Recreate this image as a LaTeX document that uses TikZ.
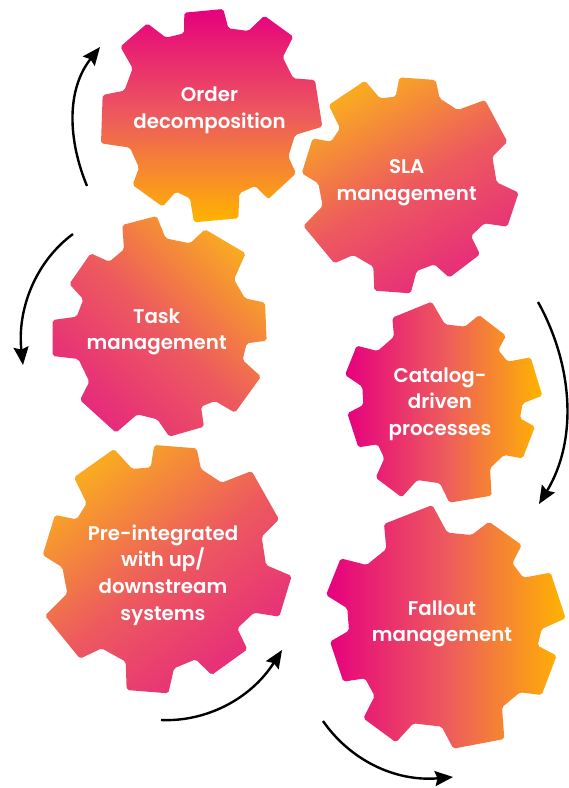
\documentclass[tikz,border=0pt]{standalone}
\usepackage{fontspec}
\setmainfont{Poppins}[BoldFont={Poppins SemiBold}]
\usetikzlibrary{arrows.meta}
\definecolor{gpink}{HTML}{E6007E}
\definecolor{gmid}{HTML}{ED5A5E}
\definecolor{gyel}{HTML}{FFB400}
\definecolor{dpink}{HTML}{E62A7C}
\definecolor{dyel}{HTML}{F9A922}
\tikzset{
  gearbase/.style={rounded corners=2pt, draw=none},
  gearv/.style={gearbase, top color=gpink, bottom color=gyel, middle color=gmid},
  gearh/.style={gearbase, left color=gpink, right color=gyel, middle color=gmid},
  geard/.style={gearbase, top color=dyel, bottom color=dpink, middle color=gmid, shading angle=#1},
  gearlabel/.style={text=white, align=center, font=\fontsize{19.8}{26.7}\selectfont\bfseries},
  turn/.style={line width=2.4pt, draw=black, -{Stealth[length=18pt,width=15pt,inset=2.5pt]}}
}
\begin{document}
\begin{tikzpicture}[x=1pt,y=-1pt]
\useasboundingbox (0,0) rectangle (569,788);
% gear 1
\begin{scope}[shift={(60,0)},scale=1/3]
\shade[gearv] (373,38) -- (490,27) -- (505,85) -- (565,93) -- (613,47) -- (700,110) -- (668,172) -- (700,235) -- (765,240) -- (787,380) -- (705,405) -- (685,470) -- (708,520) -- (625,597) -- (585,558) -- (538,580) -- (535,655) -- (402,667) -- (390,595) -- (348,575) -- (308,620) -- (218,555) -- (237,503) -- (210,443) -- (123,430) -- (128,285) -- (193,272) -- (218,205) -- (181,140) -- (262,70) -- (318,113) -- (372,100) -- cycle;
\end{scope}
% gear 2
\begin{scope}[shift={(290,70)},scale=1/3]
\shade[geard=30] (328,22) -- (437,30) -- (449,85) -- (503,120) -- (585,90) -- (652,215) -- (607,260) -- (620,337) -- (686,368) -- (652,470) -- (583,460) -- (543,498) -- (570,553) -- (478,623) -- (433,583) -- (380,603) -- (362,670) -- (253,662) -- (250,590) -- (190,555) -- (133,580) -- (40,468) -- (98,408) -- (85,340) -- (35,310) -- (68,205) -- (123,215) -- (150,175) -- (116,105) -- (225,32) -- (270,85) -- (317,80) -- cycle;
\end{scope}
% gear 3
\begin{scope}[shift={(0,210)},scale=1/3]
\shade[geard=-45] (367,45) -- (470,18) -- (497,85) -- (570,100) -- (615,58) -- (737,130) -- (702,208) -- (735,265) -- (795,278) -- (800,392) -- (740,400) -- (728,450) -- (783,500) -- (705,608) -- (645,573) -- (603,590) -- (612,650) -- (508,680) -- (472,628) -- (412,613) -- (348,668) -- (240,570) -- (268,515) -- (235,447) -- (158,438) -- (158,330) -- (230,320) -- (250,268) -- (208,222) -- (272,130) -- (328,155) -- (372,118) -- cycle;
\end{scope}
% gear 4
\begin{scope}[shift={(330,295)},scale=1/3]
\shade[gearh] (187,68) -- (305,20) -- (345,88) -- (405,95) -- (447,60) -- (528,122) -- (505,165) -- (533,200) -- (602,187) -- (637,302) -- (578,325) -- (570,370) -- (615,395) -- (578,490) -- (522,480) -- (480,520) -- (485,602) -- (358,623) -- (330,565) -- (262,555) -- (215,607) -- (137,548) -- (163,490) -- (143,448) -- (85,457) -- (52,355) -- (100,330) -- (97,275) -- (45,240) -- (80,152) -- (143,168) -- (192,125) -- cycle;
\end{scope}
% gear 5
\begin{scope}[shift={(30,440)},scale=1/3]
\shade[geard=38] (373,15) -- (500,25) -- (513,87) -- (575,128) -- (665,93) -- (747,238) -- (695,290) -- (708,375) -- (785,408) -- (748,530) -- (672,518) -- (622,565) -- (652,628) -- (545,705) -- (497,658) -- (432,685) -- (415,760) -- (290,750) -- (287,665) -- (215,625) -- (150,656) -- (45,527) -- (112,460) -- (97,382) -- (38,345) -- (75,225) -- (140,238) -- (170,190) -- (132,112) -- (252,27) -- (307,87) -- (362,82) -- cycle;
\end{scope}
% gear 6
\begin{scope}[shift={(310,500)},scale=1/3]
\shade[gearh] (222,72) -- (367,15) -- (412,98) -- (485,105) -- (537,65) -- (635,135) -- (607,190) -- (640,233) -- (722,218) -- (767,355) -- (695,387) -- (683,437) -- (740,467) -- (695,585) -- (630,577) -- (576,622) -- (583,717) -- (430,746) -- (395,680) -- (310,670) -- (258,727) -- (160,655) -- (194,588) -- (165,535) -- (100,545) -- (60,425) -- (117,392) -- (112,325) -- (48,285) -- (92,175) -- (170,195) -- (229,147) -- cycle;
\end{scope}
% labels
\node[gearlabel] (order) at (209.5,110) {Order\\decomposition};
\node[gearlabel] (sla) at (406.7,183) {SLA\\management};
\node[gearlabel] (task) at (156.7,332) {Task\\management};
\node[gearlabel] (catalog) at (440,404) {Catalog-\\driven\\processes};
\node[gearlabel] (pre) at (163,575) {Pre-integrated\\with up/\\downstream\\systems};
\node[gearlabel] (fallout) at (442,624) {Fallout\\management};
% rotation arrows
\coordinate (a1s) at (87,186);   \coordinate (a1e) at (100,47);
\coordinate (a2s) at (73,234);   \coordinate (a2e) at (23,365);
\coordinate (a3s) at (538,302);  \coordinate (a3e) at (539,504);
\coordinate (a4s) at (323,721);  \coordinate (a4e) at (453,777);
\coordinate (a5s) at (161,720);  \coordinate (a5e) at (282,650);
\draw[turn] (a1s) .. controls (68,140) and (66,90) .. (a1e);
\draw[turn] (a2s) .. controls (35,262) and (17,310) .. (a2e);
\draw[turn] (a3s) .. controls (573,365) and (578,440) .. (a3e);
\draw[turn] (a4s) .. controls (350,760) and (395,782) .. (a4e);
\draw[turn] (a5s) .. controls (205,722) and (250,700) .. (a5e);
\end{tikzpicture}
\end{document}
